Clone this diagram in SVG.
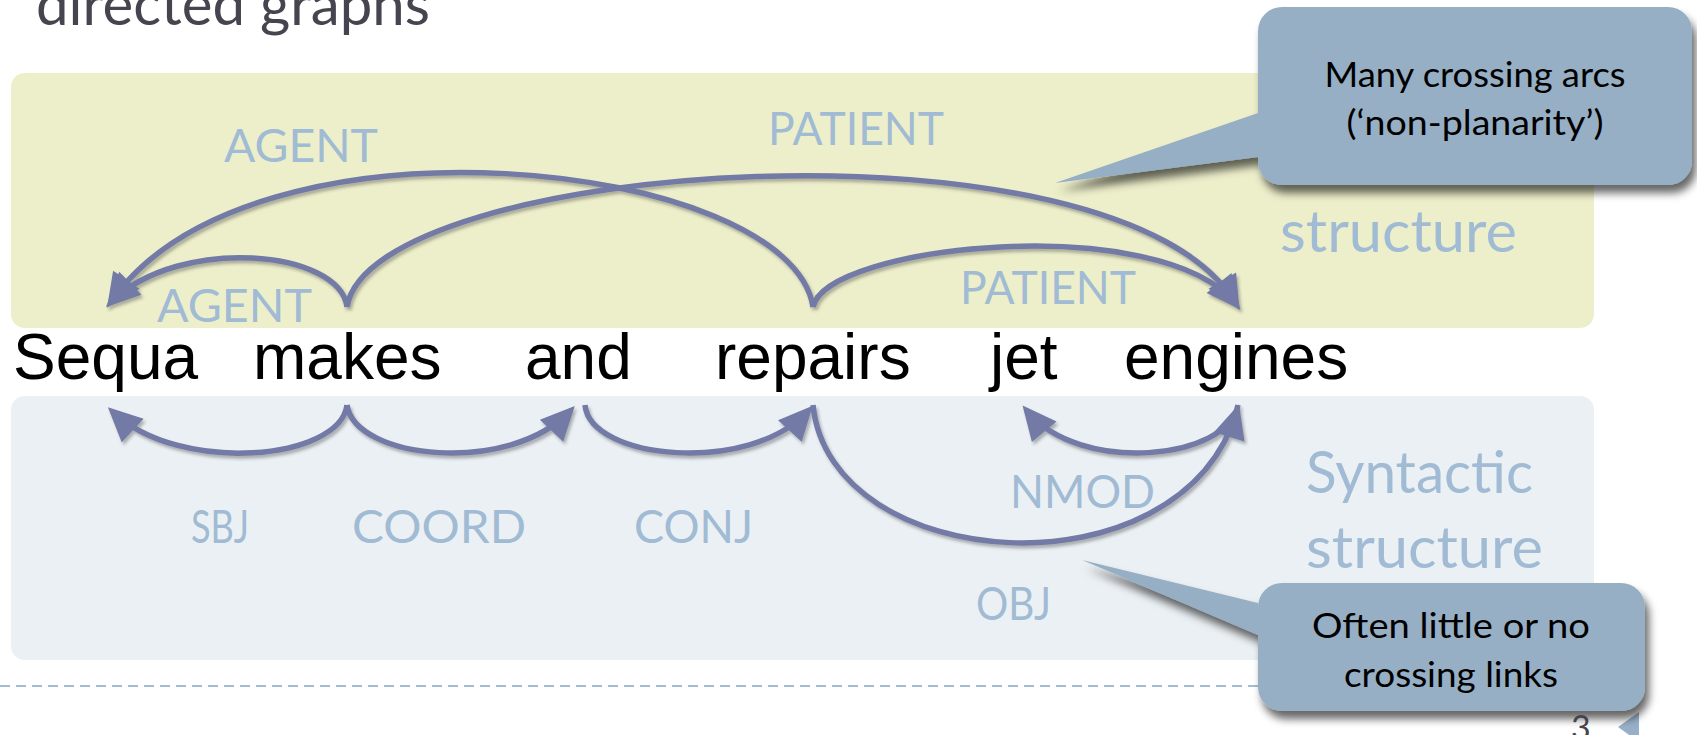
<svg xmlns="http://www.w3.org/2000/svg" width="1697" height="735" viewBox="0 0 1697 735">
<defs>
<style>
.word{font-family:"Liberation Sans",Arial,sans-serif;font-size:64px;fill:#000}
.lbl{font-family:Lato,"Open Sans",sans-serif;font-size:46px;fill:#a0bbd3}
.big{font-family:Lato,"Open Sans",sans-serif;font-size:58px;fill:#a0bbd3}
.co{font-family:Lato,"Open Sans",sans-serif;font-size:35px;fill:#000;text-anchor:middle}
.arc{fill:none;stroke:#727aa5;stroke-width:5.5;stroke-linecap:butt}
.arrow{marker-end:url(#ah)}
.callout{fill:#97afc4}
</style>
<marker id="ah" markerUnits="userSpaceOnUse" viewBox="-30 -18 40 36" markerWidth="40" markerHeight="36" refX="0" refY="0" orient="auto">
<path d="M 7 0 L -27 -16 L -27 16 Z" fill="#727aa5"/>
</marker>
<filter id="arcsh" x="-10%" y="-10%" width="130%" height="140%">
<feDropShadow dx="2" dy="3" stdDeviation="1.5" flood-color="#333" flood-opacity="0.35"/>
</filter>
<filter id="cosh" x="-10%" y="-10%" width="130%" height="140%">
<feDropShadow dx="4" dy="8" stdDeviation="4" flood-color="#000" flood-opacity="0.6"/>
</filter>
</defs>
<rect width="1697" height="735" fill="#fff"/>

<g id="title">
<text x="36" y="25" style="font-family:Lato,'Open Sans',sans-serif;font-size:58px;fill:#46454f" textLength="394" lengthAdjust="spacingAndGlyphs">directed graphs</text>
</g>

<g id="footer">
<line x1="0" y1="686" x2="1260" y2="686" stroke="#a3bcd3" stroke-width="2" stroke-dasharray="10 6"/>
<polygon points="1618,727 1639,712 1639,742" fill="#97b0c8"/>
</g>

<g id="semantic-panel">
<rect x="11" y="73" width="1583" height="255" rx="14" fill="#edefcb"/>
<text class="big" x="1280" y="252" textLength="237" lengthAdjust="spacingAndGlyphs">structure</text>
</g>
<g id="syntactic-panel">
<rect x="11" y="396" width="1583" height="264" rx="14" fill="#ebf0f4"/>
<text class="big" x="1306" y="493" textLength="227" lengthAdjust="spacingAndGlyphs">Syntactic</text>
<text class="big" x="1306" y="568" textLength="237" lengthAdjust="spacingAndGlyphs">structure</text>
</g>

<g id="words">
<text id="w-sequa" class="word" x="13" y="379">Sequa</text>
<text id="w-makes" class="word" x="253" y="379">makes</text>
<text id="w-and" class="word" x="525" y="379">and</text>
<text id="w-repairs" class="word" x="715" y="379">repairs</text>
<text id="w-jet" class="word" x="990" y="379">jet</text>
<text id="w-engines" class="word" x="1124" y="379">engines</text>
</g>

<g id="connectors" filter="url(#arcsh)">
<path id="agent-outer" class="arc arrow" d="M 813 307 C 790 160, 250 100, 111 302"/>
<path id="patient-outer" class="arc arrow" d="M 347 307 C 370 160, 1120 107, 1236 304"/>
<path id="agent-inner" class="arc arrow" d="M 347 307 C 340 250, 180 235, 111 302"/>
<path id="patient-inner" class="arc arrow" d="M 813 307 C 825 245, 1160 210, 1236 304"/>
<path id="sbj" class="arc arrow" d="M 347 405 C 340 460, 180 475, 113 412"/>
<path id="coord" class="arc arrow" d="M 347 405 C 355 460, 510 475, 570 411"/>
<path id="conj" class="arc arrow" d="M 585 405 C 590 460, 750 475, 808 411"/>
<path id="nmod" class="arc arrow" d="M 1238 405 C 1228 460, 1080 475, 1027 411"/>
<path id="obj" class="arc arrow" d="M 813 405 C 830 575, 1180 600, 1237 411"/>
</g>

<g id="labels">
<text class="lbl" x="224" y="162" textLength="154" lengthAdjust="spacingAndGlyphs">AGENT</text>
<text class="lbl" x="157" y="322" textLength="155" lengthAdjust="spacingAndGlyphs">AGENT</text>
<text class="lbl" x="768" y="145" textLength="176" lengthAdjust="spacingAndGlyphs">PATIENT</text>
<text class="lbl" x="960" y="304" textLength="176" lengthAdjust="spacingAndGlyphs">PATIENT</text>
<text class="lbl" x="191" y="543" textLength="58" lengthAdjust="spacingAndGlyphs">SBJ</text>
<text class="lbl" x="352" y="543" textLength="174" lengthAdjust="spacingAndGlyphs">COORD</text>
<text class="lbl" x="634" y="543" textLength="119" lengthAdjust="spacingAndGlyphs">CONJ</text>
<text class="lbl" x="1010" y="508" textLength="145" lengthAdjust="spacingAndGlyphs">NMOD</text>
<text class="lbl" x="976" y="620" textLength="75" lengthAdjust="spacingAndGlyphs">OBJ</text>
</g>

<g id="callout-top">
<path class="callout" filter="url(#cosh)" d="M 1282 7 H 1668 A 24 24 0 0 1 1692 31 V 161 A 24 24 0 0 1 1668 185 H 1282 A 24 24 0 0 1 1258 161 V 157 L 1055 183 L 1258 113 V 31 A 24 24 0 0 1 1282 7 Z"/>
<text class="co" x="1475" y="87" textLength="301" lengthAdjust="spacingAndGlyphs">Many crossing arcs</text>
<text class="co" x="1475" y="135" textLength="257" lengthAdjust="spacingAndGlyphs">(‘non-planarity’)</text>
</g>

<g id="callout-bottom">
<path class="callout" filter="url(#cosh)" d="M 1282 583 H 1621 A 24 24 0 0 1 1645 607 V 687 A 24 24 0 0 1 1621 711 H 1282 A 24 24 0 0 1 1258 687 V 635 L 1082 560 L 1258 603 V 607 A 24 24 0 0 1 1282 583 Z"/>
<text class="co" x="1451" y="638" textLength="278" lengthAdjust="spacingAndGlyphs">Often little or no</text>
<text class="co" x="1451" y="687" textLength="214" lengthAdjust="spacingAndGlyphs">crossing links</text>
</g>

<g id="page-number">
<text x="1571" y="740" style="font-family:Lato,'Open Sans',sans-serif;font-size:34px;fill:#46454f">3</text>
</g>
</svg>
